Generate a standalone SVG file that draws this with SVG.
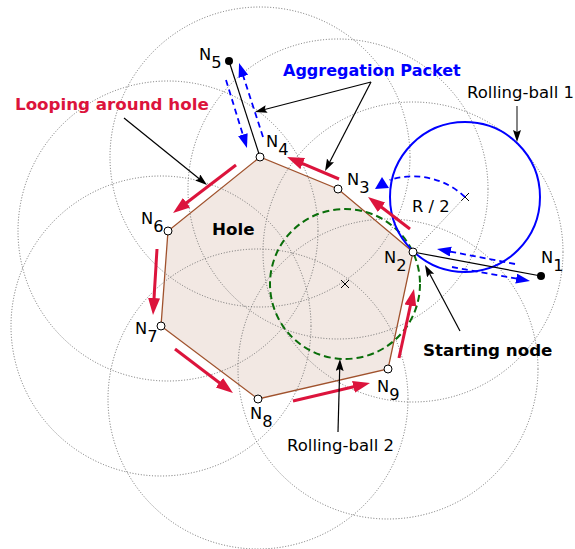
<svg xmlns="http://www.w3.org/2000/svg" width="575" height="549" viewBox="0 0 575 549">
<style>
text{font-family:"DejaVu Sans","Liberation Sans",sans-serif;}
.lbl{font-size:16.3px;fill:#000;}
.range{fill:none;stroke:#6e6e6e;stroke-width:1;stroke-dasharray:1,1.8;}
.red{fill:none;stroke:#dc143c;stroke-width:3;marker-end:url(#mRed);}
.blk{fill:none;stroke:#000;stroke-width:1.2;marker-end:url(#mBlk);}
.bld{fill:none;stroke:#0000ff;stroke-width:1.8;stroke-dasharray:6,4;marker-end:url(#mBlue);}
.open{fill:#fff;stroke:#000;stroke-width:1;}
.full{fill:#000;}
.x{stroke:#000;stroke-width:1;}
</style>
<defs>
<marker id="mRed" markerUnits="userSpaceOnUse" markerWidth="18" markerHeight="14" viewBox="0 0 18 14" refX="9" refY="6" orient="auto"><path d="M0,0 L17,6 L0,12 z" fill="#dc143c"/></marker>
<marker id="mBlk" markerUnits="userSpaceOnUse" markerWidth="14" markerHeight="10" viewBox="0 0 14 10" refX="6" refY="4" orient="auto"><path d="M0,0 L12,4 L0,8 L2,4 z" fill="#000"/></marker>
<marker id="mBlue" markerUnits="userSpaceOnUse" markerWidth="16" markerHeight="12" viewBox="0 0 16 12" refX="7" refY="5" orient="auto"><path d="M0,0 L14,5 L0,10 z" fill="#0000ff"/></marker>
</defs>

<g id="hole">
<polygon points="413,252 338,189 260,157 168,231 161,326 258,399 388,369" fill="#f2e8e3" stroke="#a0522d" stroke-width="1.3"/>
<text x="212" y="235" style="font-size:16.7px;font-weight:bold">Hole</text>
</g>

<g id="ranges">
<circle class="range" cx="413" cy="252" r="150"/>
<circle class="range" cx="338" cy="189" r="150"/>
<circle class="range" cx="260" cy="157" r="150"/>
<circle class="range" cx="168" cy="231" r="150"/>
<circle class="range" cx="161" cy="326" r="150"/>
<circle class="range" cx="258" cy="399" r="150"/>
<circle class="range" cx="388" cy="369" r="150"/>
</g>

<g id="rolling-ball-2">
<circle cx="345" cy="284" r="75" fill="none" stroke="#0a6e0a" stroke-width="2" stroke-dasharray="7,4"/>
<path class="x" d="M341,280 L349,288 M349,280 L341,288"/>
</g>

<g id="rolling-ball-1">
<circle cx="465" cy="197" r="75" fill="none" stroke="#0000ff" stroke-width="2"/>
<path class="x" d="M461,193 L469,201 M469,193 L461,201"/>
<line x1="413" y1="252" x2="465" y2="197" class="range"/>
<path d="M465,197 A75.7,75.7 0 0 0 389.6,180" fill="none" stroke="#0000ff" stroke-width="1.8" stroke-dasharray="6,4"/>
<polygon points="375,189 382,177 389,188" fill="#0000ff"/>
<text x="412" y="212" class="lbl">R / 2</text>
</g>

<g id="connectors">
<line x1="413" y1="252" x2="541" y2="276" stroke="#000" stroke-width="1.2"/>
<line x1="260" y1="157" x2="229" y2="61" stroke="#000" stroke-width="1.2"/>
<path class="red" d="M339,179 L294.4,160.1"/>
<path class="red" d="M410,229 L374.4,201.8"/>
<path class="red" d="M236,165 L179.4,208.2"/>
<path class="red" d="M157,249 L153.5,307"/>
<path class="red" d="M175,349 L226.6,388.2"/>
<path class="red" d="M293,401 L362.2,384.8"/>
<path class="red" d="M399,358 L412.3,296.8"/>
<path class="bld" d="M226,80 L244.9,141.3"/>
<path class="bld" d="M263,137 L241.2,69.7"/>
<path class="bld" d="M515,264 L443.9,250.3"/>
<path class="bld" d="M452,267 L523.1,279.8"/>
<path class="blk" d="M124,118 L202.3,181.2"/>
<path class="blk" d="M371,82 L260.8,110.5"/>
<path class="blk" d="M371,82 L327.8,165.7"/>
<path class="blk" d="M517,106 L517,136" style="stroke:#333"/>
<path class="blk" d="M460,331 L427.8,270.3"/>
<path class="blk" d="M338,432 L339.8,365"/>
</g>

<g id="N1"><circle class="full" cx="541" cy="276" r="4"/><text class="lbl" x="541" y="263">N<tspan dy="7.5">1</tspan></text></g>
<g id="N2"><circle class="open" cx="413" cy="252" r="4"/><text class="lbl" x="384" y="263">N<tspan dy="8">2</tspan></text></g>
<g id="N3"><circle class="open" cx="338" cy="189" r="4"/><text class="lbl" x="347" y="185">N<tspan dy="8">3</tspan></text></g>
<g id="N4"><circle class="open" cx="260" cy="157" r="4"/><text class="lbl" x="266" y="147">N<tspan dy="8">4</tspan></text></g>
<g id="N5"><circle class="full" cx="229" cy="61" r="4"/><text class="lbl" x="199" y="60">N<tspan dy="8">5</tspan></text></g>
<g id="N6"><circle class="open" cx="168" cy="231" r="4"/><text class="lbl" x="141" y="224">N<tspan dy="8">6</tspan></text></g>
<g id="N7"><circle class="open" cx="161" cy="326" r="4"/><text class="lbl" x="135" y="334">N<tspan dy="8">7</tspan></text></g>
<g id="N8"><circle class="open" cx="258" cy="399" r="4"/><text class="lbl" x="250" y="419">N<tspan dy="8">8</tspan></text></g>
<g id="N9"><circle class="open" cx="388" cy="369" r="4"/><text class="lbl" x="377" y="392">N<tspan dy="8">9</tspan></text></g>

<g id="labels">
<text x="15" y="110" style="font-size:16.7px;font-weight:bold;fill:#dc143c">Looping around hole</text>
<text x="283" y="76" style="font-size:16px;font-weight:bold;fill:#0000ff">Aggregation Packet</text>
<text x="467" y="98" style="font-size:16.5px">Rolling-ball 1</text>
<text x="423" y="356" style="font-size:16.7px;font-weight:bold">Starting node</text>
<text x="287" y="451" style="font-size:16.5px">Rolling-ball 2</text>
</g>
</svg>
